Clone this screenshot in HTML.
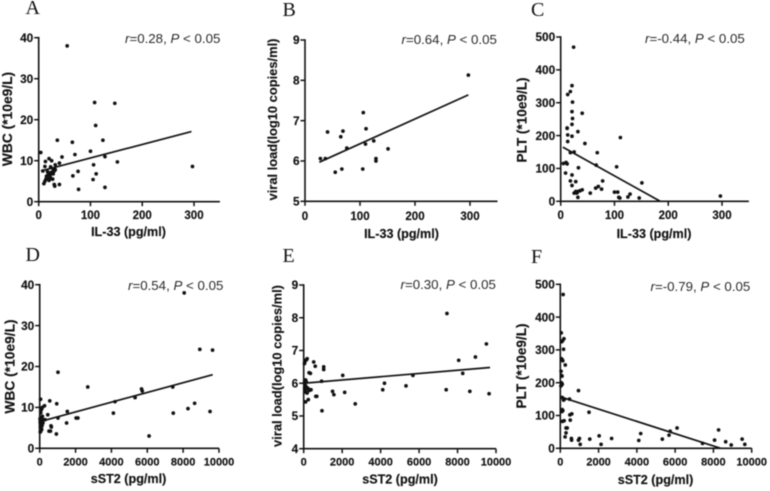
<!DOCTYPE html>
<html>
<head>
<meta charset="utf-8">
<style>
html,body{margin:0;padding:0;background:#fff;}
svg{display:block;filter:blur(0.4px);}
text{font-family:"Liberation Sans",sans-serif;fill:#111;}
.letter{font-family:"Liberation Serif",serif;font-size:20px;fill:#111;}
.note{font-size:13.3px;fill:#2a2a2a;}
.title{font-weight:bold;text-anchor:middle;stroke:#111;stroke-width:0.15px;}
.tick{font-weight:bold;stroke:#111;stroke-width:0.15px;}
</style>
</head>
<body>
<svg id="figure" xmlns="http://www.w3.org/2000/svg" width="770" height="491" viewBox="0 0 770 491">
<rect width="770" height="491" fill="#fff"/>
<text class="letter" x="25.5" y="14">A</text>
<text class="letter" x="282.5" y="16">B</text>
<text class="letter" x="531" y="16">C</text>
<text class="letter" x="25.5" y="261">D</text>
<text class="letter" x="282.5" y="262">E</text>
<text class="letter" x="531" y="263">F</text>

<text class="note" x="125" y="43"><tspan font-style="italic">r</tspan>=0.28, <tspan font-style="italic">P</tspan> &lt; 0.05</text>
<text class="note" x="401.5" y="44"><tspan font-style="italic">r</tspan>=0.64, <tspan font-style="italic">P</tspan> &lt; 0.05</text>
<text class="note" x="645" y="43"><tspan font-style="italic">r</tspan>=-0.44, <tspan font-style="italic">P</tspan> &lt; 0.05</text>
<text class="note" x="128" y="290"><tspan font-style="italic">r</tspan>=0.54, <tspan font-style="italic">P</tspan> &lt; 0.05</text>
<text class="note" x="400.5" y="289"><tspan font-style="italic">r</tspan>=0.30, <tspan font-style="italic">P</tspan> &lt; 0.05</text>
<text class="note" x="650.5" y="291"><tspan font-style="italic">r</tspan>=-0.79, <tspan font-style="italic">P</tspan> &lt; 0.05</text>

<text class="title" font-size="12.6" x="128.5" y="236">IL-33 (pg/ml)</text>
<text class="title" font-size="12.6" x="401.5" y="238">IL-33 (pg/ml)</text>
<text class="title" font-size="12.6" x="654" y="238">IL-33 (pg/ml)</text>
<text class="title" font-size="12.6" x="128.5" y="483">sST2 (pg/ml)</text>
<text class="title" font-size="12.6" x="400" y="483.5">sST2 (pg/ml)</text>
<text class="title" font-size="12.6" x="655.5" y="484">sST2 (pg/ml)</text>

<text class="title" font-size="13.8" transform="translate(12,119) rotate(-90)">WBC (*10e9/L)</text>
<text class="title" font-size="12.9" transform="translate(277,119.5) rotate(-90)">viral load(log10 copies/ml)</text>
<text class="title" font-size="13.6" transform="translate(526.5,120) rotate(-90)">PLT (*10e9/L)</text>
<text class="title" font-size="13.8" transform="translate(14.5,366.5) rotate(-90)">WBC (*10e9/L)</text>
<text class="title" font-size="12.9" transform="translate(281.5,366) rotate(-90)">viral load(log10 copies/ml)</text>
<text class="title" font-size="13.6" transform="translate(526,366) rotate(-90)">PLT (*10e9/L)</text>
</svg>
<script>
// Tick labels
const il33Ticks = [0, 100, 200, 300];
const sst2Ticks = [0, 2000, 4000, 6000, 8000, 10000];
const wbcTicks = [0, 10, 20, 30, 40];
const viralTicksTop = [5, 6, 7, 8, 9];
const viralTicksBottom = [4, 5, 6, 7, 8, 9];
const pltTicks = [0, 100, 200, 300, 400, 500];

// Panel A: IL-33 vs WBC
const aX = [55,108,147,110,36,65,124,4,100,70,128,45,152,297,106,111,105,128,77,76,66,40,31,30,40,32,25,20,13,23,12,8,28,30,32,25,20,18,15,22,14,10,12,18,20,24,27,22,17,28];
const aY = [38,24.2,24,18.6,15,14.5,15,12,12.3,11.5,11,10.9,9.7,8.6,9,6.8,5.4,3.5,3,7.4,6.3,4.2,3.8,4.2,9.4,9,10,10.5,9.8,8.5,8.6,7.5,8,7.5,7.8,7.2,7,6.5,6.2,6.5,5.5,4.4,5,5.5,5.2,5.6,5.5,6,7.3,6.8];
const aLineX = [4.5, 295];
const aLineY = [7.5, 17.1];

// Panel B: IL-33 vs viral load
const bX = [297,106,111,41,69,65,125,110,76,151,28,37,129,129,67,105,55];
const bY = [8.13,7.2,6.8,6.72,6.74,6.6,6.5,6.42,6.32,6.3,6.06,6.06,6.06,6.0,5.8,5.8,5.72];
const bLineX = [26, 297];
const bLineY = [5.97, 7.64];

// Panel C: IL-33 vs PLT
const cX = [24,21,18,13,22,21,22,21,40,12,12,13,21,32,13,45,111,18,25,68,66,104,33,5,10,12,9,21,18,28,21,78,151,70,65,76,40,36,32,28,25,30,55,100,106,129,125,110,108,146,32,297];
const cY = [469,352,334,325,302,273,252,234,268,223,222,202,198,212,182,176,194,148,150,148,110,105,102,115,118,114,86,80,62,60,48,62,56,45,40,37,35,32,30,30,25,25,25,28,28,22,13,10,12,10,12,16];
const cLineX = [4, 185];
const cLineY = [165, 0];

// Panel D: sST2 vs WBC
const dX = [8060,8930,9640,1020,2680,5680,5720,7420,5320,50,560,4200,950,8640,8270,9500,7450,4110,1540,450,270,150,100,60,1020,2030,2130,1500,6100,930,630,650,520,600,300,200,30,50,70,40,80,100,120,60,150,40,90,130,180,20,30,60,110,40,90,70,140,30,100,160];
const dY = [38,24.2,24,18.6,15,14.5,14,15,12.4,12,11.6,11.4,10.9,11,9.7,9,8.6,8.6,9,8.2,10.4,10,9.5,8.7,7.4,7.4,7.4,6.2,3,3.5,5.5,5.2,4.2,4.2,7,7,4,4.5,5,5.5,6,6.5,7,7.5,7.8,6,4.8,5.5,6.2,7.2,6.6,4.2,4.6,5,5.3,5.7,5.9,6.3,6.9,6.7];
const dLineX = [0, 9650];
const dLineY = [6.5, 18];

// Panel E: sST2 vs viral load
const eX = [7450,9500,8930,8060,8270,5680,4200,5320,4110,7410,8640,9640,2030,2680,2130,1500,1570,950,930,1040,1040,520,600,280,350,630,680,380,240,100,40,60,90,150,180,50,100,130,70,50,120,200,250,80,130,180,60,300];
const eY = [8.13,7.2,6.8,6.7,6.3,6.24,6.0,5.92,5.8,5.8,5.75,5.68,6.24,5.37,5.72,5.75,5.65,5.16,6.06,6.5,6.42,6.65,6.52,6.32,6.3,5.6,5.6,5.8,5.5,5.43,6.6,6.65,6.7,6.72,6.75,6.05,6.1,6.05,5.95,5.85,5.9,5.85,5.82,5.75,5.72,5.7,5.78,5.78];
const eLineX = [0, 9690];
const eLineY = [6.0, 6.48];

// Panel F: sST2 vs PLT
const fX = [150,50,190,120,70,170,60,100,130,260,40,60,90,50,80,100,30,950,480,220,170,100,1500,600,500,520,100,130,80,110,200,300,360,300,250,580,590,1000,950,1040,1540,2030,2130,2680,4200,4100,5330,5680,5740,6100,7430,8060,8270,8640,8930,9500,9640];
const fY = [469,352,334,328,325,302,273,270,267,254,235,222,220,200,198,195,190,176,150,150,147,155,110,105,102,86,118,115,112,82,84,62,62,47,35,30,25,30,25,12,28,38,12,30,45,24,28,40,52,62,15,25,56,20,10,28,12];
const fLineX = [0, 8380];
const fLineY = [157, 0];

const svgNS = 'http://www.w3.org/2000/svg';
const figure = document.getElementById('figure');

const panels = [
  {id:'a', xs:aX, ys:aY, lx:aLineX, ly:aLineY, xTicks:il33Ticks, yTicks:wbcTicks, xMax:350, yMin:0, yMax:40, left:38.7, right:219.9, bottom:201.7, top:37.7, labelY:219, size:11.5},
  {id:'b', xs:bX, ys:bY, lx:bLineX, ly:bLineY, xTicks:il33Ticks, yTicks:viralTicksTop, xMax:350, yMin:5, yMax:9, left:305, right:497.5, bottom:201.3, top:40, labelY:220, size:11.5},
  {id:'c', xs:cX, ys:cY, lx:cLineX, ly:cLineY, xTicks:il33Ticks, yTicks:pltTicks, xMax:350, yMin:0, yMax:500, left:560.7, right:748.9, bottom:201.3, top:37, labelY:219, size:11.5},
  {id:'d', xs:dX, ys:dY, lx:dLineX, ly:dLineY, xTicks:sst2Ticks, yTicks:wbcTicks, xMax:10000, yMin:0, yMax:40, left:39.7, right:219, bottom:448.3, top:284.7, labelY:465.7, size:11},
  {id:'e', xs:eX, ys:eY, lx:eLineX, ly:eLineY, xTicks:sst2Ticks, yTicks:viralTicksBottom, xMax:10000, yMin:4, yMax:9, left:303.7, right:496, bottom:448.7, top:285, labelY:465.7, size:11},
  {id:'f', xs:fX, ys:fY, lx:fLineX, ly:fLineY, xTicks:sst2Ticks, yTicks:pltTicks, xMax:10000, yMin:0, yMax:500, left:560.3, right:751.7, bottom:448.3, top:284.3, labelY:465.7, size:11}
];

function drawPanel(p) {
  const sx = v => p.left + (v / p.xMax) * (p.right - p.left);
  const sy = v => p.bottom - ((v - p.yMin) / (p.yMax - p.yMin)) * (p.bottom - p.top);

  const g = document.createElementNS(svgNS, 'g');
  
  
  figure.appendChild(g);

  const xAxis = document.createElementNS(svgNS, 'line');
  
  
  xAxis.setAttribute('x1', p.left - 0.8);
  xAxis.setAttribute('x2', p.right);
  xAxis.setAttribute('y1', p.bottom);
  xAxis.setAttribute('y2', p.bottom);
  xAxis.setAttribute('stroke', '#111');
  xAxis.setAttribute('stroke-width', '1.6');
  g.appendChild(xAxis);

  const yAxis = document.createElementNS(svgNS, 'line');
  
  
  yAxis.setAttribute('x1', p.left);
  yAxis.setAttribute('x2', p.left);
  yAxis.setAttribute('y1', p.bottom);
  yAxis.setAttribute('y2', p.top - 0.8);
  yAxis.setAttribute('stroke', '#111');
  yAxis.setAttribute('stroke-width', '1.6');
  g.appendChild(yAxis);

  p.xTicks.forEach(v => {
    const t = document.createElementNS(svgNS, 'line');
    
    
    t.setAttribute('x1', sx(v));
    t.setAttribute('x2', sx(v));
    t.setAttribute('y1', p.bottom);
    t.setAttribute('y2', p.bottom + 4.5);
    t.setAttribute('stroke', '#111');
    t.setAttribute('stroke-width', '1.5');
    g.appendChild(t);

    const lab = document.createElementNS(svgNS, 'text');
    
    
    lab.setAttribute('class', 'tick');
    lab.setAttribute('x', sx(v));
    lab.setAttribute('y', p.labelY);
    lab.setAttribute('text-anchor', 'middle');
    lab.setAttribute('font-size', p.size);
    lab.textContent = v;
    g.appendChild(lab);
  });

  p.yTicks.forEach(v => {
    const t = document.createElementNS(svgNS, 'line');
    
    
    t.setAttribute('x1', p.left);
    t.setAttribute('x2', p.left - 4.5);
    t.setAttribute('y1', sy(v));
    t.setAttribute('y2', sy(v));
    t.setAttribute('stroke', '#111');
    t.setAttribute('stroke-width', '1.5');
    g.appendChild(t);

    const lab = document.createElementNS(svgNS, 'text');
    
    
    lab.setAttribute('class', 'tick');
    lab.setAttribute('x', p.left - 5.5);
    lab.setAttribute('y', sy(v) + 4.2);
    lab.setAttribute('text-anchor', 'end');
    lab.setAttribute('font-size', '11.8');
    lab.textContent = v;
    g.appendChild(lab);
  });

  p.xs.forEach((v, i) => {
    const c = document.createElementNS(svgNS, 'circle');
    
    
    c.setAttribute('cx', sx(v));
    c.setAttribute('cy', sy(p.ys[i]));
    c.setAttribute('r', '1.85');
    c.setAttribute('fill', '#111');
    g.appendChild(c);
  });

  const fit = document.createElementNS(svgNS, 'line');
  
  
  fit.setAttribute('x1', sx(p.lx[0]));
  fit.setAttribute('y1', sy(p.ly[0]));
  fit.setAttribute('x2', sx(p.lx[1]));
  fit.setAttribute('y2', sy(p.ly[1]));
  fit.setAttribute('stroke', '#111');
  fit.setAttribute('stroke-width', '1.7');
  g.appendChild(fit);
}

panels.forEach(drawPanel);
</script>
</body>
</html>
